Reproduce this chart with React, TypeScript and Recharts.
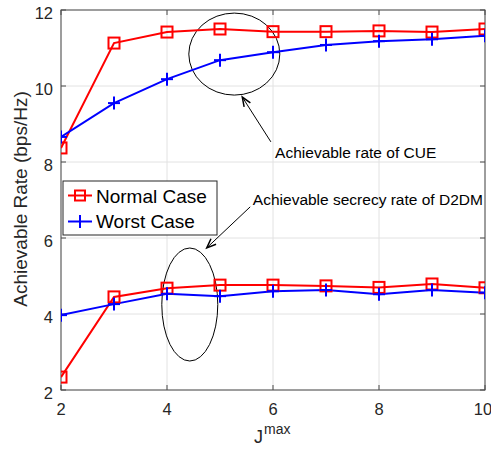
import React from 'react';
import { LineChart, Line, XAxis, YAxis, CartesianGrid, Customized } from 'recharts';

const jMax = [2, 3, 4, 5, 6, 7, 8, 9, 10];
const cueNormal = [8.37, 11.13, 11.42, 11.5, 11.43, 11.43, 11.45, 11.42, 11.5];
const cueWorst = [8.66, 9.55, 10.18, 10.68, 10.89, 11.08, 11.18, 11.23, 11.32];
const d2dmNormal = [2.34, 4.45, 4.68, 4.76, 4.76, 4.74, 4.7, 4.79, 4.69];
const d2dmWorst = [3.97, 4.26, 4.53, 4.47, 4.6, 4.63, 4.52, 4.63, 4.56];
const xTicks = [2, 4, 6, 8, 10];
const yTicks = [2, 4, 6, 8, 10, 12];
const seriesNames = ['Normal Case', 'Worst Case'];
const annotationTexts = ['Achievable rate of CUE', 'Achievable secrecy rate of D2DM'];

const data = jMax.map((j, i) => ({
  j,
  cueNormal: cueNormal[i],
  cueWorst: cueWorst[i],
  d2dmNormal: d2dmNormal[i],
  d2dmWorst: d2dmWorst[i],
}));

const W = 491;
const H = 449;
const PL = 61;
const PT = 10;
const PW = 424;
const PH = 380;
const XMIN = 2, XMAX = 10, YMIN = 2, YMAX = 12;
const FONT = '"Liberation Sans", Arial, Helvetica, sans-serif';
const RED = '#ff0000';
const BLUE = '#0000ff';
const TXT = '#262626';

const px = (x: number) => PL + ((x - XMIN) / (XMAX - XMIN)) * PW;
const py = (y: number) => PT + ((YMAX - y) / (YMAX - YMIN)) * PH;

const SquareDot = (props: any) => {
  const { cx, cy, index } = props;
  if (cx == null || cy == null) return <g key={index} />;
  return (
    <rect key={index} x={cx - 5.5} y={cy - 5.5} width={11} height={11} fill="none" stroke={RED} strokeWidth={2} />
  );
};

const PlusDot = (props: any) => {
  const { cx, cy, index } = props;
  if (cx == null || cy == null) return <g key={index} />;
  return (
    <g key={index}>
      <line x1={cx - 6} x2={cx + 6} y1={cy} y2={cy} stroke={BLUE} strokeWidth={2} />
      <line x1={cx} x2={cx} y1={cy - 6.5} y2={cy + 6.5} stroke={BLUE} strokeWidth={2} />
    </g>
  );
};

const XTick = (props: any) => {
  const { x, payload } = props;
  return (
    <text x={x} y={PT + PH + 25} textAnchor="middle" fontSize={16.5} fill={TXT} fontFamily={FONT}>
      {payload.value}
    </text>
  );
};

const YTick = (props: any) => {
  const { y, payload } = props;
  return (
    <text x={PL - 8} y={y + 8.5} textAnchor="end" fontSize={16.5} fill={TXT} fontFamily={FONT}>
      {payload.value}
    </text>
  );
};

const Arrow = ({ x1, y1, x2, y2 }: { x1: number; y1: number; y2: number; x2: number }) => {
  const a = Math.atan2(y2 - y1, x2 - x1);
  const L = 10;
  const s = 0.38;
  return (
    <g stroke="#000" strokeWidth={1} fill="none">
      <line x1={x1} y1={y1} x2={x2} y2={y2} />
      <polyline
        points={`${x2 - L * Math.cos(a - s)},${y2 - L * Math.sin(a - s)} ${x2},${y2} ${x2 - L * Math.cos(a + s)},${y2 - L * Math.sin(a + s)}`}
        strokeWidth={1.5}
      />
    </g>
  );
};

const Overlay = () => {
  const tickLen = 5;
  return (
    <g>
      {/* box */}
      <rect x={PL} y={PT} width={PW} height={PH} fill="none" stroke="#4a4a4a" strokeWidth={1} />
      {xTicks.map((t) => (
        <g key={'xt' + t} stroke="#4a4a4a" strokeWidth={1}>
          <line x1={px(t)} x2={px(t)} y1={PT + PH} y2={PT + PH - tickLen} />
          <line x1={px(t)} x2={px(t)} y1={PT} y2={PT + tickLen} />
        </g>
      ))}
      {yTicks.map((t) => (
        <g key={'yt' + t} stroke="#4a4a4a" strokeWidth={1}>
          <line x1={PL} x2={PL + tickLen} y1={py(t)} y2={py(t)} />
          <line x1={PL + PW} x2={PL + PW - tickLen} y1={py(t)} y2={py(t)} />
        </g>
      ))}
      {/* ellipses */}
      <ellipse cx={px(5.27)} cy={py(10.84)} rx={45.5} ry={41} fill="none" stroke="#000" strokeWidth={1} />
      <ellipse cx={px(4.43)} cy={py(4.25)} rx={28} ry={56.5} fill="none" stroke="#000" strokeWidth={1} />
      <Arrow x1={px(5.96)} y1={py(8.53)} x2={px(5.42)} y2={py(9.71)} />
      <Arrow x1={px(5.57)} y1={py(6.82)} x2={px(4.75)} y2={py(5.74)} />
      <text x={px(6.04)} y={py(8.11)} fontSize={15.5} fill="#000" fontFamily={FONT}>
        {annotationTexts[0]}
      </text>
      <text x={px(5.62)} y={py(6.87)} fontSize={15.5} fill="#000" fontFamily={FONT}>
        {annotationTexts[1]}
      </text>
      {/* legend */}
      <rect x={63} y={181} width={154} height={54} fill="#fff" stroke="#262626" strokeWidth={1} />
      <line x1={68} x2={92} y1={195.5} y2={195.5} stroke={RED} strokeWidth={2} />
      <rect x={75} y={190.5} width={10} height={10} fill="none" stroke={RED} strokeWidth={2} />
      <text x={96} y={203} fontSize={19} fill="#000" fontFamily={FONT}>
        {seriesNames[0]}
      </text>
      <line x1={68} x2={92} y1={221.5} y2={221.5} stroke={BLUE} strokeWidth={2} />
      <line x1={80} x2={80} y1={215} y2={228} stroke={BLUE} strokeWidth={2} />
      <text x={96} y={228} fontSize={19} fill="#000" fontFamily={FONT}>
        {seriesNames[1]}
      </text>
      {/* axis labels */}
      <text
        x={20}
        y={199}
        transform="rotate(-90 20 199)"
        textAnchor="middle"
        dominantBaseline="central"
        fontSize={19}
        fill={TXT}
        fontFamily={FONT}
      >
        Achievable Rate (bps/Hz)
      </text>
      <text x={254} y={443} fontSize={18} fill={TXT} fontFamily={FONT}>
        J
        <tspan dx={1} dy={-9} fontSize={14}>
          max
        </tspan>
      </text>
    </g>
  );
};

export default function App() {
  return (
    <div style={{ position: 'absolute', left: 0, top: 0, width: W, height: H, background: '#fff' }}>
      <LineChart width={W} height={H} data={data} margin={{ top: PT, right: W - PL - PW, bottom: 29, left: 21 }}>
        <CartesianGrid stroke="#e2e2e2" strokeWidth={1} vertical horizontal />
        <XAxis
          dataKey="j"
          type="number"
          domain={[XMIN, XMAX]}
          ticks={xTicks}
          axisLine={false}
          tickLine={false}
          height={30}
          tick={<XTick />}
          allowDataOverflow
        />
        <YAxis
          type="number"
          domain={[YMIN, YMAX]}
          ticks={yTicks}
          axisLine={false}
          tickLine={false}
          width={40}
          tick={<YTick />}
          allowDataOverflow
        />
        <Line dataKey="cueNormal" stroke={RED} strokeWidth={2} dot={<SquareDot />} isAnimationActive={false} />
        <Line dataKey="d2dmNormal" stroke={RED} strokeWidth={2} dot={<SquareDot />} isAnimationActive={false} />
        <Line dataKey="cueWorst" stroke={BLUE} strokeWidth={2} dot={<PlusDot />} isAnimationActive={false} />
        <Line dataKey="d2dmWorst" stroke={BLUE} strokeWidth={2} dot={<PlusDot />} isAnimationActive={false} />
        <Customized component={<Overlay />} />
      </LineChart>
    </div>
  );
}
